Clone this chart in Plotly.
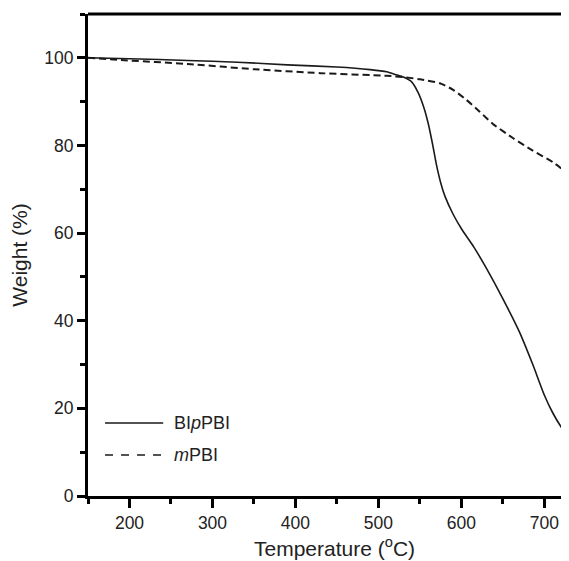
import plotly.graph_objects as go

# values
bippbi_t = [150, 200, 270, 330, 390, 450, 490, 510, 520, 530, 540, 548, 555, 560, 565,
            570, 575, 580, 590, 600, 615, 630, 650, 670, 686, 700, 710, 720, 729]
bippbi_w = [100, 99.8, 99.4, 99.0, 98.4, 97.9, 97.3, 96.8, 96.2, 95.6, 94.5, 92.0, 88.5, 85.0, 80.5,
            75.5, 71.5, 68.5, 64.3, 61.0, 56.8, 52.0, 45.0, 37.4, 30.0, 23.0, 19.0, 15.8, 13.5]

mpbi_t = [150, 190, 270, 350, 430, 510, 530, 550, 574, 590, 606, 622, 638, 662, 686, 710, 729]
mpbi_w = [100, 99.5, 98.6, 97.4, 96.5, 95.9, 95.6, 95.1, 94.2, 92.7, 90.4, 87.7, 84.9, 81.7, 78.8, 76.2, 73.5]

x_ticks = [200, 300, 400, 500, 600, 700]
y_ticks = [0, 20, 40, 60, 80, 100]

fnt = 'Liberation Sans, Arial, sans-serif'

fig = go.Figure([
    go.Scatter(name='BIpPBI', x=bippbi_t, y=bippbi_w, mode='lines',
               line=dict(color='#1a1a1a', width=1.6, shape='spline', smoothing=0.6)),
    go.Scatter(name='mPBI', x=mpbi_t, y=mpbi_w, mode='lines',
               line=dict(color='#1a1a1a', width=2, dash='7px,4px', shape='spline', smoothing=0.6)),
])

# the page body adds an 8px margin, so the figure is sized to fit inside the window
fig.update_layout(
    width=553, height=553,
    margin=dict(l=80, r=0, t=6, b=65),
    plot_bgcolor='white', paper_bgcolor='white',
    showlegend=False,
    font=dict(family=fnt, size=17.5, color='#222222'),
)

fig.update_xaxes(
    range=[150, 720], tickvals=x_ticks,
    showline=True, linecolor='black', linewidth=3,
    ticks='outside', ticklen=9, tickwidth=2.5, tickcolor='black',
    minor=dict(dtick=50, tick0=150, ticks='outside', ticklen=5, tickwidth=2.5, tickcolor='black'),
    showgrid=False, zeroline=False,
)
fig.update_yaxes(
    range=[0, 110], tickvals=y_ticks,
    showline=True, linecolor='black', linewidth=3,
    ticks='outside', ticklen=8, tickwidth=2.5, tickcolor='black',
    minor=dict(dtick=10, tick0=0, ticks='outside', ticklen=5, tickwidth=2.5, tickcolor='black'),
    showgrid=False, zeroline=False,
    title=dict(text='Weight (%)', font=dict(size=21), standoff=13),
)

# x title sits a little right of the visible plot centre in the original
fig.add_annotation(text='Temperature (<sup>o</sup>C)', xref='paper', yref='paper', x=0.522, y=0,
                   xanchor='center', yanchor='middle', yshift=-51, showarrow=False,
                   font=dict(size=21, color='#222222'))

# top frame line
fig.add_shape(type='line', xref='paper', yref='paper', x0=0, x1=1, y0=1, y1=1,
              line=dict(color='black', width=3))

# legend drawn by hand to match the original layout
leg = [('BI<i>p</i>PBI', 'solid', 1.6, 0.1515), ('<i>m</i>PBI', '8px,8px', 1.6, 0.085)]
for label, dash, w, yy in leg:
    fig.add_shape(type='line', xref='paper', yref='paper', x0=0.036, x1=0.159, y0=yy, y1=yy,
                  line=dict(color='#1a1a1a', width=w, dash=dash))
    fig.add_annotation(text=label, xref='paper', yref='paper', x=0.178, y=yy,
                       xanchor='left', yanchor='middle', showarrow=False,
                       font=dict(size=18, color='#222222'))

fig.write_html("out.html")
